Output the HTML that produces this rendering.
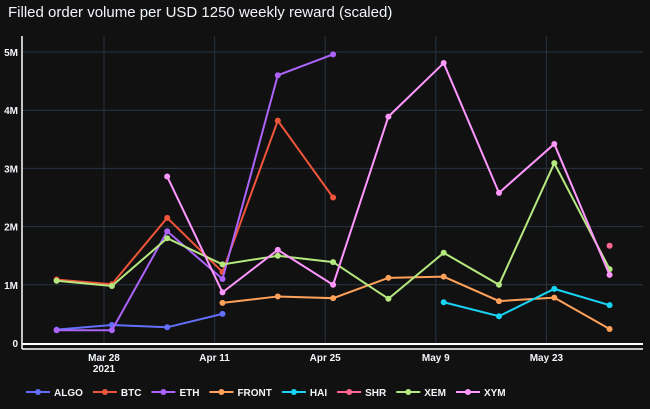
<!DOCTYPE html>
<html><head><meta charset="utf-8"><style>
body{margin:0;background:#111111;width:650px;height:404px;overflow:hidden;font-family:"Liberation Sans",sans-serif}
text{font-family:"Liberation Sans",sans-serif;fill:#f2f5fa}
</style></head><body>
<svg id="c" width="650" height="404">
<rect width="650" height="404" fill="#111111"/>
<text x="8" y="17" font-size="15">Filled order volume per USD 1250 weekly reward (scaled)</text>
<g id="grid"></g><g id="series"></g><g id="legend"></g>
</svg>
<script>
const dates=["2021-03-22","2021-03-29","2021-04-05","2021-04-12","2021-04-19","2021-04-26","2021-05-03","2021-05-10","2021-05-17","2021-05-24","2021-05-31"];
const names=["ALGO","BTC","ETH","FRONT","HAI","SHR","XEM","XYM"];
const colors=["#636efa","#EF553B","#ab63fa","#FFA15A","#19d3f3","#FF6692","#B6E880","#FF97FF"];
const ALGO=[0.23,0.31,0.27,0.5,null,null,null,null,null,null,null];
const BTC=[1.09,1.01,2.15,1.22,3.82,2.5,null,null,null,null,null];
const ETH=[0.22,0.22,1.92,1.1,4.6,4.96,null,null,null,null,null];
const FRONT=[null,null,null,0.69,0.8,0.77,1.12,1.14,0.72,0.78,0.24];
const HAI=[null,null,null,null,null,null,null,0.7,0.46,0.93,0.65];
const SHR=[null,null,null,null,null,null,null,null,null,null,1.67];
const XEM=[1.07,0.98,1.8,1.35,1.5,1.39,0.76,1.55,1.0,3.09,1.27];
const XYM=[null,null,2.86,0.87,1.6,1.0,3.89,4.81,2.58,3.42,1.17];
const yTicks=[0,1,2,3,4,5];
const yTickLabels=["0","1M","2M","3M","4M","5M"];
const xTicks=["2021-03-28","2021-04-11","2021-04-25","2021-05-09","2021-05-23"];
const xTickLabels=["Mar 28","Apr 11","Apr 25","May 9","May 23"];
const series=[ALGO,BTC,ETH,FRONT,HAI,SHR,XEM,XYM];
const NS="http://www.w3.org/2000/svg";
const base=Date.parse("2021-03-28");
function X(d){return 104+(Date.parse(d)-base)/864e5*7.9;}
function Y(v){return 343-v*58.2;}
function mk(t,a,p){const e=document.createElementNS(NS,t);for(const k in a)e.setAttribute(k,a[k]);p.appendChild(e);return e;}
const g=document.getElementById('grid');
yTicks.forEach((v,i)=>{
 if(v>0){const l=mk('line',{x1:22,x2:643,y1:Y(v),y2:Y(v),stroke:'#283442','stroke-width':1},g);
 
 }
 const t=mk('text',{x:18,y:Y(v)+4,'text-anchor':'end','font-size':10,'font-weight':'bold'},g);t.textContent=yTickLabels[i];
 
 
});
xTicks.forEach((d,i)=>{
 const l=mk('line',{x1:X(d),x2:X(d),y1:36,y2:343,stroke:'#283442','stroke-width':1},g);
 
 
 const t=mk('text',{x:X(d),y:361,'text-anchor':'middle','font-size':10,'font-weight':'bold'},g);t.textContent=xTickLabels[i];
 
 
});
const yr=mk('text',{x:X(xTicks[0]),y:372,'text-anchor':'middle','font-size':10,'font-weight':'bold'},g);yr.textContent="2021";


const zl=mk('line',{x1:22,x2:643,y1:344,y2:344,stroke:'#ffffff','stroke-width':2},g);


const xa=mk('line',{x1:22,x2:643,y1:349,y2:349,stroke:'#ffffff','stroke-width':1.5},g);


const ya=mk('line',{x1:22,x2:22,y1:36,y2:349,stroke:'#ffffff','stroke-width':1.5},g);


const sg=document.getElementById('series');
series.forEach((s,si)=>{
 const grp=mk('g',{},sg);
 
 
 let seg=[];
 const flush=()=>{if(seg.length>1){const p=mk('polyline',{points:seg.join(' '),fill:'none',stroke:colors[si],'stroke-width':2},grp);
 
 }seg=[];};
 s.forEach((v,i)=>{if(v==null){flush();return;}seg.push(X(dates[i])+','+Y(v));});flush();
 s.forEach((v,i)=>{if(v==null)return;const c=mk('circle',{cx:X(dates[i]),cy:Y(v),r:3,fill:colors[si]},grp);
 
 });
});
const lg=document.getElementById('legend');
let lx=26;
names.forEach((n,i)=>{
 const e=mk('g',{},lg);
 
 
 mk('line',{x1:lx,x2:lx+24,y1:392,y2:392,stroke:colors[i],'stroke-width':2},e);
 mk('circle',{cx:lx+12,cy:392,r:3,fill:colors[i]},e);
 const t=mk('text',{x:lx+28,y:396,'font-size':10,'font-weight':'bold'},e);t.textContent=n;
 lx=lx+28+t.getComputedTextLength()+10;
});
</script>
</body></html>
